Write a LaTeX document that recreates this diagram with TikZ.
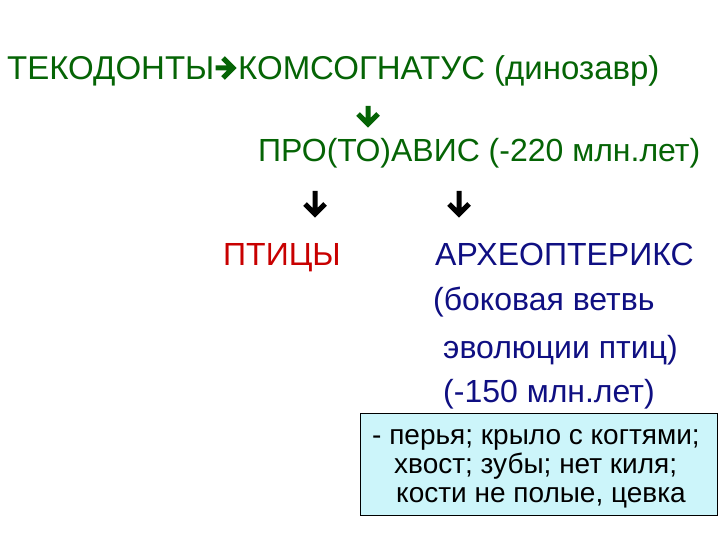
\documentclass[tikz,border=0pt]{standalone}
\usepackage{fontspec}
\setmainfont{Liberation Sans}
\usetikzlibrary{calc}
\definecolor{dgreen}{RGB}{5,100,5}
\definecolor{dblue}{RGB}{15,15,130}
\definecolor{dred}{RGB}{200,0,0}
\definecolor{boxfill}{RGB}{204,245,250}
\begin{document}
\begin{tikzpicture}[x=1pt,y=-1pt,
  txt/.style={inner sep=0pt, anchor=base west, font=\fontsize{32}{38}\selectfont},
  bigtxt/.style={inner sep=0pt, anchor=base west, font=\fontsize{33}{39}\selectfont},
  boxtxt/.style={inner sep=0pt, anchor=base west, font=\fontsize{28}{33}\selectfont, text=black},
  fatline/.style={line width=5pt, line join=miter, miter limit=4},
  downarr/.style={
    to path={(\tikztostart) -- ($(\tikztotarget)+(0,-2)$)
      ($(\tikztotarget)+(-10,-10)$) -- (\tikztotarget) -- ($(\tikztotarget)+(10,-10)$)}},
  rightarr/.style={
    to path={(\tikztostart) -- ($(\tikztotarget)+(-2,0)$)
      ($(\tikztotarget)+(-10,-10)$) -- (\tikztotarget) -- ($(\tikztotarget)+(-10,10)$)}}]
\useasboundingbox (0,0) rectangle (720,540);
% line 1
\node[bigtxt, text=dgreen] (teko) at (7,80) {ТЕКОДОНТЫ};
\node[bigtxt, text=dgreen] (komso) at (238,80) {КОМСОГНАТУС (динозавр)};
\coordinate (h1s) at ($(teko.base east)+(1,-12)$);
\coordinate (h1e) at ($(komso.base west)+(-5,-12)$);
\draw[dgreen, fatline] (h1s) to[rightarr] (h1e);
% line 2
\node[txt, text=dgreen] (proto) at (258,162) {ПРО(ТО)АВИС (-220 млн.лет)};
\coordinate (a1s) at (368,106);
\coordinate (a1e) at (368,124);
\draw[dgreen, fatline] (a1s) to[downarr] (a1e);
% line 3
\coordinate (a2s) at (315,191);
\coordinate (a2e) at (315,214);
\coordinate (a3s) at (459,191);
\coordinate (a3e) at (459,214);
\draw[black, fatline] (a2s) to[downarr] (a2e);
\draw[black, fatline] (a3s) to[downarr] (a3e);
\node[txt, text=dred] (birds) at (223,265) {ПТИЦЫ};
\node[txt, text=dblue] (archeo) at (435,265) {АРХЕОПТЕРИКС};
\node[txt, text=dblue] (side1) at (433,310) {(боковая ветвь};
\node[txt, text=dblue] (side2) at (443,358) {эволюции птиц)};
\node[txt, text=dblue] (side3) at (443,402) {(-150 млн.лет)};
% box
\draw[fill=boxfill, line width=1pt] (360,413) rectangle (717,515);
\node[boxtxt] (b1) at (372,444) {- перья; крыло с когтями;};
\node[boxtxt] (b2) at (394,473) {хвост; зубы; нет киля;};
\node[boxtxt] (b3) at (396,502) {кости не полые, цевка};
\end{tikzpicture}
\end{document}
